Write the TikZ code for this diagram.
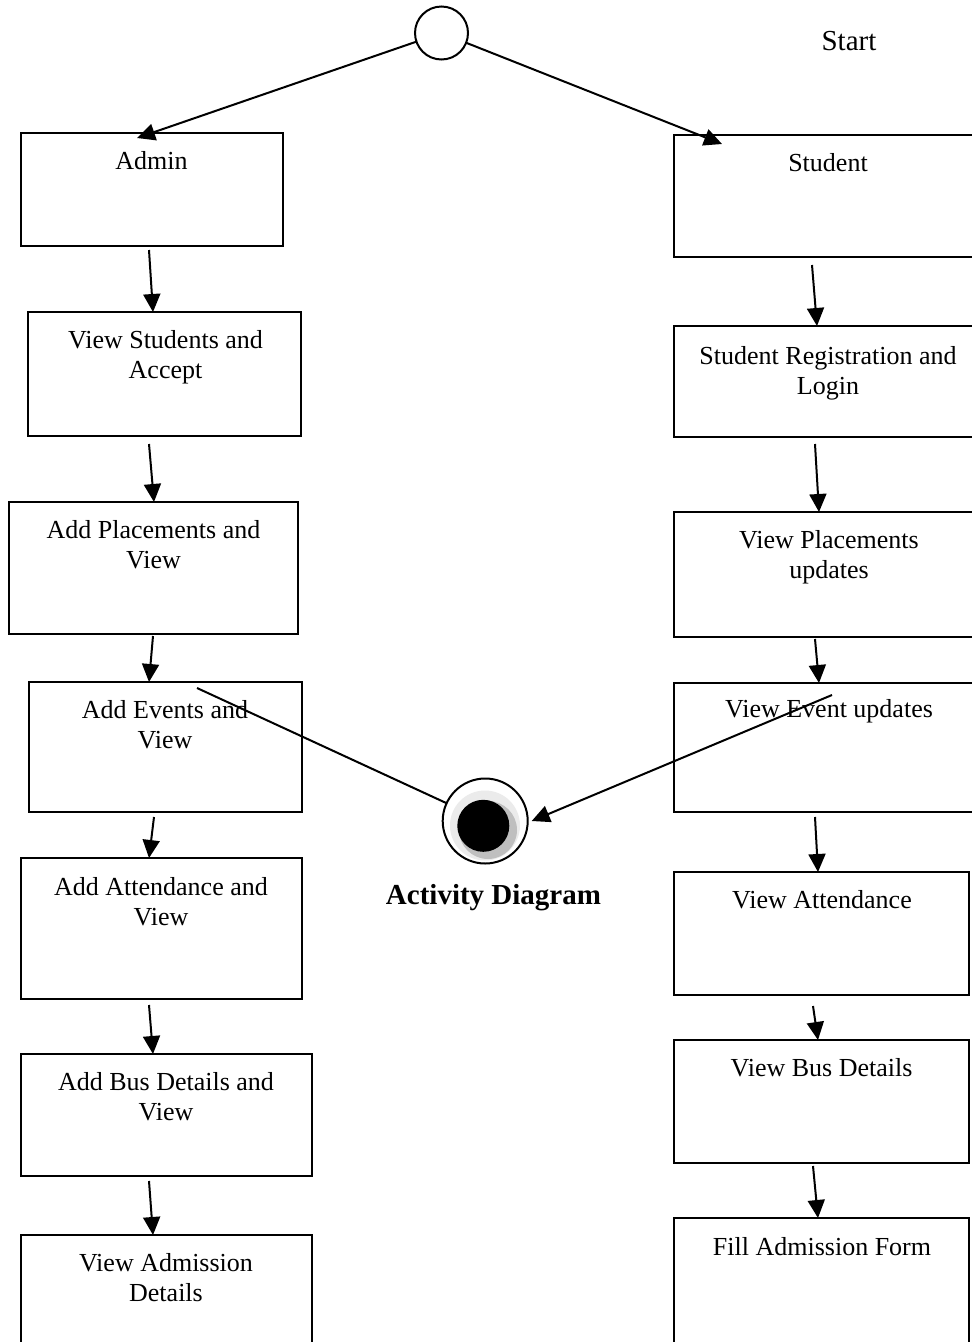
\documentclass[tikz,border=0pt]{standalone}
\usepackage{fontspec}
\setmainfont{Liberation Serif}
\usetikzlibrary{arrows.meta}

% rectangle from (x1,y1) to (x2,y2): name, x1, y1, x2, y2
\newcommand\activitybox[5]{%
  \node[actbox, minimum width={#4-#2}, minimum height={#5-#3}] (#1) at ({(#2+#4)/2},{(#3+#5)/2}) {};}

\begin{document}
\begin{tikzpicture}[x=1pt,y=-1pt,
  actbox/.style={draw, line width=1.8pt, rectangle, inner sep=0pt, outer sep=0pt},
  lbl/.style={anchor=north, inner sep=0pt, align=center, font=\fontsize{26}{30}\selectfont},
  flow/.style={line width=2pt, -{Triangle[length=18pt,width=17pt]}},
  plainline/.style={line width=2pt},
  startnode/.style={draw, circle, line width=2pt, inner sep=0pt, outer sep=0pt, minimum size=53pt},
  endnode/.style={draw, circle, fill=white, line width=2pt, inner sep=0pt, outer sep=0pt, minimum size=85pt},
]
\useasboundingbox (0,0) rectangle (972,1342);
\clip (0,0) rectangle (972,1342);

% ---- admin lane ----
\activitybox{admin}{21}{133}{283}{246}
\activitybox{vstud}{28}{312}{301}{436}
\activitybox{aplace}{9}{502}{298}{634}
\activitybox{aevent}{29}{682}{302}{812}
\activitybox{aatt}{21}{858}{302}{999}
\activitybox{abus}{21}{1054}{312}{1176}
\activitybox{vadm}{21}{1235}{312}{1352}

% ---- student lane ----
\activitybox{student}{674}{135}{978}{257}
\activitybox{sreg}{674}{326}{978}{437}
\activitybox{vplace}{674}{512}{978}{637}
\activitybox{vevent}{674}{683}{978}{812}
\activitybox{vatt}{674}{872}{969}{995}
\activitybox{vbus}{674}{1040}{969}{1163}
\activitybox{fill}{674}{1218}{969}{1352}

% ---- box texts (first baseline = y + 21) ----
\node[lbl] (admin-t)  at (151.5,148)  {\strut Admin};
\node[lbl] (vstud-t)  at (165.5,327)  {\strut View Students and\\Accept};
\node[lbl] (aplace-t) at (153.5,517)  {\strut Add Placements and\\View};
\node[lbl] (aevent-t) at (165,697)    {\strut Add Events and\\View};
\node[lbl] (aatt-t)   at (161,874)    {\strut Add Attendance and\\View};
\node[lbl] (abus-t)   at (166,1069)   {\strut Add Bus Details and\\View};
\node[lbl] (vadm-t)   at (166,1250)   {\strut View Admission\\Details};

\node[lbl] (student-t) at (828,150)   {\strut Student};
\node[lbl] (sreg-t)    at (828,343)   {\strut Student Registration and\\Login};
\node[lbl] (vplace-t)  at (829,527)   {\strut View Placements\\updates};
\node[lbl] (vevent-t)  at (829,696)   {\strut View Event updates};
\node[lbl] (vatt-t)    at (822,887)   {\strut View Attendance};
\node[lbl] (vbus-t)    at (821.5,1055){\strut View Bus Details};
\node[lbl] (fill-t)    at (822,1234)  {\strut Fill Admission Form};

% ---- start and end ----
\node[startnode] (start) at (441.5,33) {};
\node[anchor=base, inner sep=0pt, font=\fontsize{29}{34}\selectfont] (start-t) at (849,50) {Start};

\node[endnode] (final) at (485.2,821) {};
\fill[gray!16] (485,825.5) circle[radius=35pt];
\fill[gray!50] (488,830) circle[radius=29pt];
\fill[black] (483.3,825.8) circle[radius=26pt];
\node[anchor=base, inner sep=0pt, font=\fontsize{29}{34}\selectfont\bfseries] (final-t) at (493.5,904) {Activity Diagram};

% ---- connectors ----
\draw[flow] (start) -- ([shift={(-15,5)}]admin.north);
\draw[flow] (start) -- ([shift={(48,9)}]student.north west);

\draw[flow] ([shift={(-3,4)}]admin.south)     -- ([shift={(-11.5,0)}]vstud.north);
\draw[flow] ([shift={(-15.5,8)}]vstud.south)  -- ([shift={(0.5,0)}]aplace.north);
\draw[flow] ([shift={(-0.5,2)}]aplace.south)  -- ([shift={(-16.5,0)}]aevent.north);
\draw[flow] ([shift={(-11.5,5)}]aevent.south) -- ([shift={(-12.5,0)}]aatt.north);
\draw[flow] ([shift={(-12.5,6)}]aatt.south)   -- ([shift={(-13.5,0)}]abus.north);
\draw[flow] ([shift={(-17.5,5)}]abus.south)   -- ([shift={(-13.5,0)}]vadm.north);

\draw[flow] ([shift={(-14,8)}]student.south)  -- ([shift={(-9,0)}]sreg.north);
\draw[flow] ([shift={(-11,7)}]sreg.south)     -- ([shift={(-7,0)}]vplace.north);
\draw[flow] ([shift={(-11,2)}]vplace.south)   -- ([shift={(-7,0)}]vevent.north);
\draw[flow] ([shift={(-11,5)}]vevent.south)   -- ([shift={(-3.5,0)}]vatt.north);
\draw[flow] ([shift={(-8.5,11)}]vatt.south)   -- ([shift={(-3.5,0)}]vbus.north);
\draw[flow] ([shift={(-8.5,3)}]vbus.south)    -- ([shift={(-3.5,0)}]fill.north);

\coordinate (finaltip) at ([xshift=4pt]final.east);
\draw[plainline] ([shift={(168,6)}]aevent.north west) -- (final);
\draw[flow] ([shift={(158,12)}]vevent.north west) -- (finaltip);
\end{tikzpicture}
\end{document}
